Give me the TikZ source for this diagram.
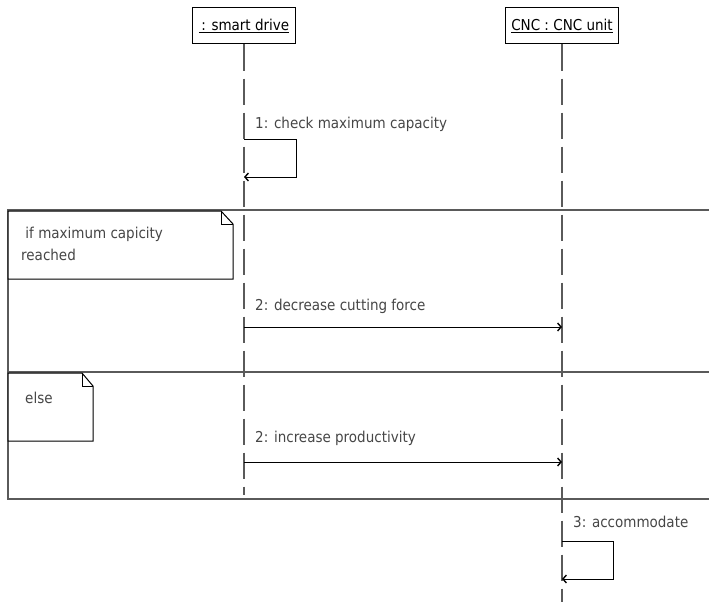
\documentclass[tikz,border=0pt]{standalone}
\usepackage{fontspec}
\setmainfont{DejaVu Sans Condensed}
\usepackage{xcolor}
\usepackage{tikz}
\usetikzlibrary{arrows,arrows.meta,positioning}

\definecolor{labelgray}{RGB}{70,70,70}
\definecolor{linegray}{RGB}{90,90,90}

\begin{document}
\begin{tikzpicture}[
        x=1pt, y=-1pt,
        font=\fontsize{15}{22}\selectfont,
        head/.style={draw, line width=1pt, minimum height=36pt, inner xsep=6pt},
        lifeline/.style={draw=linegray, line width=1.3pt, dash pattern=on 26pt off 8pt},
        msg/.style={line width=1pt, -{Straight Barb[length=3.5pt, width=8pt, line width=1.4pt]}},
        msglabel/.style={anchor=west, text=labelgray, inner sep=0pt},
        fragline/.style={draw=linegray, line width=1.5pt}
    ]
                \useasboundingbox (0,0) rectangle (709,602);

                % lifeline heads
                \node[head] (drive) at (244,26) {\underline{\,: smart drive}};
                \node[head] (cnc) at (562,26) {\underline{CNC : CNC unit}};

                \coordinate (driveend) at (244,495);
                \coordinate (cncend) at (562,602);
                \draw[lifeline] (drive.south) -- (driveend);
                \draw[lifeline] (cnc.south) -- (cncend);

                % 1: self message
                \coordinate (m1a) at (244,139);
                \coordinate (m1b) at (296,139);
                \coordinate (m1c) at (296,177);
                \coordinate (m1d) at (244,177);
                \draw[msg] (m1a) -- (m1b) -- (m1c) -- (m1d);
                \node[msglabel] (l1) at (255,124) {1: check maximum capacity};

                % combined fragment
                \draw[fragline] (709,210) -- (8,210) -- (8,499) -- (709,499);
                \draw[fragline] (8,372) -- (709,372);

                % guard notes
                \draw[
                    line width=1pt,
                    fill=white
                ] (8,211) -- (221,211) -- (233,224) -- (233,279) -- (8,279) -- cycle;
                \draw[line width=0.8pt] (221,211) -- (221,224) -- (233,224);
                \node[anchor=north west, align=left, inner sep=0pt, text=labelgray] (g1) at (21,227)
                    {\ if maximum capicity\\reached};

                \draw[
                    line width=1pt,
                    fill=white
                ] (8,373) -- (82,373) -- (93,386) -- (93,441) -- (8,441) -- cycle;
                \draw[line width=0.8pt] (82,373) -- (82,386) -- (93,386);
                \node[anchor=west, inner sep=0pt, text=labelgray] (g2) at (25,398) {else};

                % 2: messages to the CNC unit
                \coordinate (m2a) at (244,327);
                \coordinate (m2b) at (562,327);
                \draw[msg] (m2a) -- (m2b);
                \node[msglabel] (l2) at (255,306) {2: decrease cutting force};

                \coordinate (m3a) at (244,462);
                \coordinate (m3b) at (562,462);
                \draw[msg] (m3a) -- (m3b);
                \node[msglabel] (l3) at (255,438) {2: increase productivity};

                % 3: self message
                \coordinate (m4a) at (562,541);
                \coordinate (m4b) at (613,541);
                \coordinate (m4c) at (613,579);
                \coordinate (m4d) at (562,579);
                \draw[msg] (m4a) -- (m4b) -- (m4c) -- (m4d);
                \node[msglabel] (l4) at (573,522) {3: accommodate};

\end{tikzpicture}
\end{document}
